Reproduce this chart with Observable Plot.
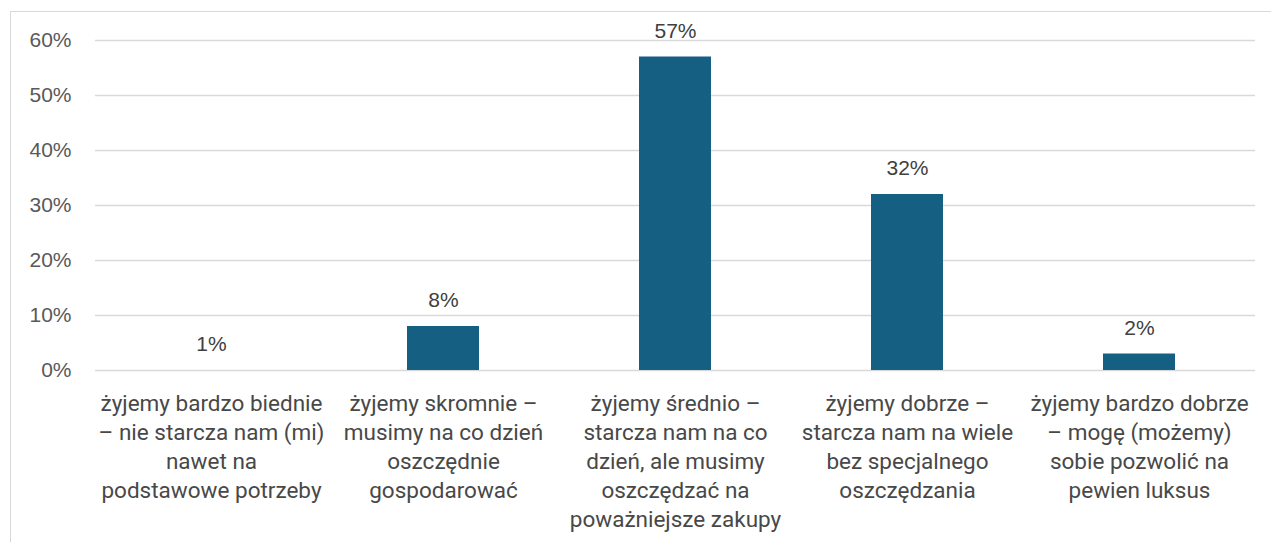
<!DOCTYPE html>
<html>
<head>
<meta charset="utf-8">
<script src="https://cdn.jsdelivr.net/npm/d3@7"></script>
<script src="https://cdn.jsdelivr.net/npm/@observablehq/plot@0.6"></script>
<style>
  html, body { margin: 0; padding: 0; background: #fff; }
  #wrap { position: relative; width: 1271px; height: 542px; }
  #frame { position: absolute; left: 10px; top: 11px; right: 0; bottom: 0;
           border-left: 1.5px solid #d9d9d9; border-top: 1.5px solid #d9d9d9; pointer-events: none; }
</style>
</head>
<body>
<div id="wrap"><div id="frame"></div></div>
<script>
const categories = [
  "żyjemy bardzo biednie\n– nie starcza nam (mi)\nnawet na\npodstawowe potrzeby",
  "żyjemy skromnie –\nmusimy na co dzień\noszczędnie\ngospodarować",
  "żyjemy średnio –\nstarcza nam na co\ndzień, ale musimy\noszczędzać na\npoważniejsze zakupy",
  "żyjemy dobrze –\nstarcza nam na wiele\nbez specjalnego\noszczędzania",
  "żyjemy bardzo dobrze\n– mogę (możemy)\nsobie pozwolić na\npewien luksus"
];
const values = [0, 8, 57, 32, 3];
const valueLabels = ["1%", "8%", "57%", "32%", "2%"];
const yTicks = [0, 10, 20, 30, 40, 50, 60];

const data = categories.map((c, i) => ({cat: c, value: values[i], label: valueLabels[i]}));

const chart = Plot.plot({
  width: 1271,
  height: 542,
  marginLeft: 95,
  marginRight: 16,
  marginTop: 40,
  marginBottom: 172,
  style: {background: "transparent", overflow: "visible"},
  x: {domain: categories, paddingInner: 0.69, paddingOuter: 0.345, label: null},
  y: {domain: [0, 60], label: null},
  marks: [
    Plot.gridY(yTicks, {stroke: "#d9d9d9", strokeOpacity: 1, strokeWidth: 1.5}),
    Plot.axisY(yTicks, {tickSize: 0, tickPadding: 24, tickFormat: d => d + "%",
      fontSize: 21, fill: "#595959", fontFamily: "Liberation Sans, Arial, sans-serif", label: null}),
    Plot.axisX({tickSize: 0, tickPadding: 20, fontSize: 22.5, fill: "#484848", lineHeight: 1.29,
      fontFamily: "Roboto, sans-serif", label: null, textAnchor: "middle"}),
    Plot.barY(data, {x: "cat", y: "value", fill: "#156082"}),
    Plot.text(data, {x: "cat", y: "value", text: "label", dy: -26, fontSize: 21,
      fill: "#404040", fontFamily: "Liberation Sans, Arial, sans-serif"})
  ]
});
document.getElementById("wrap").prepend(chart);
chart.style.position = "absolute";
chart.style.left = "0";
chart.style.top = "0";
</script>
</body>
</html>
